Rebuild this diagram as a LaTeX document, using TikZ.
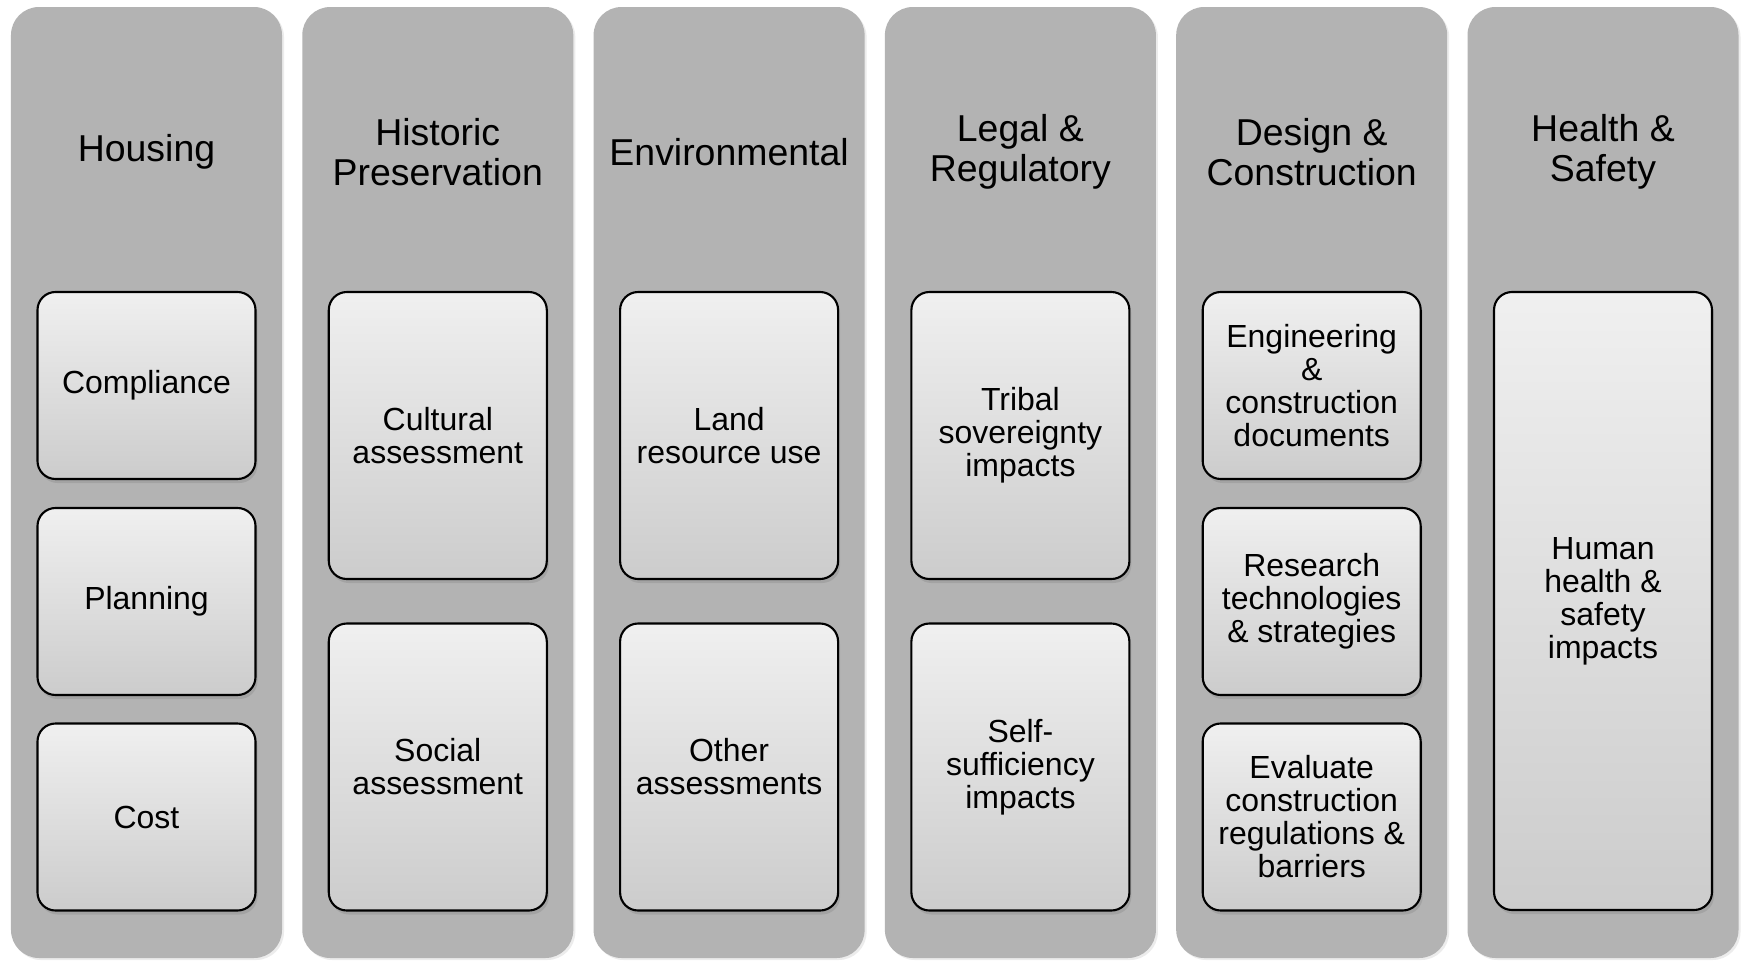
\documentclass[tikz,border=0pt]{standalone}
\usepackage{fontspec}
\setmainfont{Liberation Sans}
\usetikzlibrary{shadows}

\definecolor{colgray}{HTML}{B3B3B3}

\begin{document}
\begin{tikzpicture}[
    column/.style={fill=colgray, rounded corners=0.28cm, minimum width=2.71cm, minimum height=9.51cm,
        drop shadow={opacity=0.15, shadow xshift=0.02cm, shadow yshift=-0.02cm}},
    header/.style={align=center, font=\fontsize{10.65}{11.4}\selectfont},
    item/.style={draw=black, line width=0.6pt, rounded corners=0.18cm, minimum width=2.18cm,
        top color=black!6, bottom color=black!20, align=center, font=\fontsize{9.1}{9.4}\selectfont,
        drop shadow={opacity=0.3, shadow xshift=0.02cm, shadow yshift=-0.04cm}},
    itemsmall/.style={item, minimum height=1.87cm},
    itemmid/.style={item, minimum height=2.87cm},
    itemtall/.style={item, minimum height=6.18cm}
]
    % Background
    \useasboundingbox[fill=white] (0,0) rectangle (17.43,9.60);

    % Columns and headers
    \foreach \name/\x/\title in {hous/1.465/Housing, hist/4.378/Historic\\Preservation,
        env/7.291/Environmental, legal/10.204/Legal \&\\Regulatory,
        design/13.117/Design \&\\Construction, health/16.03/Health \&\\Safety} {
        \node[column] (\name) at (\x,4.775) {};
        \node[header] (\name-head) at (\x,8.08) {\title};
    }

    % Housing
    \node[itemsmall] (hous-a) at (1.465,5.745) {Compliance};
    \node[itemsmall] (hous-b) at (1.465,3.585) {Planning};
    \node[itemsmall] (hous-c) at (1.465,1.43) {Cost};

    % Historic Preservation
    \node[itemmid] (hist-a) at (4.378,5.245) {Cultural\\assessment};
    \node[itemmid] (hist-b) at (4.378,1.93) {Social\\assessment};

    % Environmental
    \node[itemmid] (env-a) at (7.291,5.245) {Land\\resource use};
    \node[itemmid] (env-b) at (7.291,1.93) {Other\\assessments};

    % Legal & Regulatory
    \node[itemmid] (legal-a) at (10.204,5.245) {Tribal\\sovereignty\\impacts};
    \node[itemmid] (legal-b) at (10.204,1.93) {Self-\\sufficiency\\impacts};

    % Design & Construction
    \node[itemsmall] (design-a) at (13.117,5.745) {Engineering\\\&\\construction\\documents};
    \node[itemsmall] (design-b) at (13.117,3.585) {Research\\technologies\\\& strategies};
    \node[itemsmall] (design-c) at (13.117,1.43) {Evaluate\\construction\\regulations \&\\barriers};

    % Health & Safety
    \node[itemtall] (health-a) at (16.03,3.59) {Human\\health \&\\safety\\impacts};
\end{tikzpicture}
\end{document}
